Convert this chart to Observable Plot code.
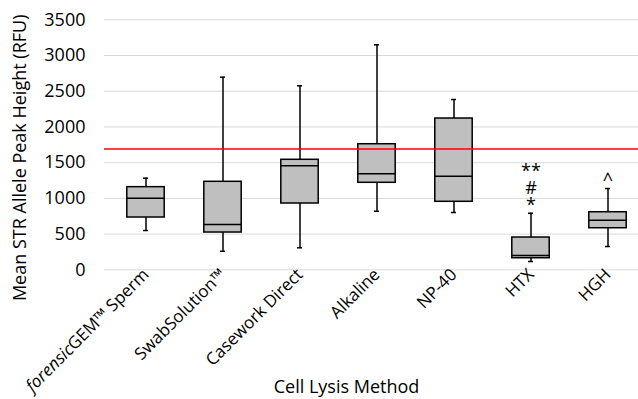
<!DOCTYPE html>
<html><head><meta charset="utf-8">
<script src="https://cdn.jsdelivr.net/npm/d3@7"></script>
<script src="https://cdn.jsdelivr.net/npm/@observablehq/plot@0.6"></script>
<style>body{margin:0;background:#fff;} #chart{width:638px;height:399px;overflow:hidden;}</style>
</head><body><div id="chart"></div>
<script>
const methods = ["forensicGEM™ Sperm","SwabSolution™","Casework Direct","Alkaline","NP-40","HTX","HGH"];
const whiskerLow  = [550, 260, 308, 820, 802, 116, 326];
const q1          = [732, 522, 928, 1218, 952, 162, 582];
const median      = [1003, 634, 1456, 1344, 1310, 200, 694];
const q3          = [1157, 1232, 1540, 1758, 2118, 452, 806];
const whiskerHigh = [1283, 2697, 2576, 3150, 2384, 792, 1138];
const threshold = 1690;
const yTicks = [0, 500, 1000, 1500, 2000, 2500, 3000, 3500];
const annotMethod = ["HTX", "HGH"];
const annotLabel = ["**\n#\n*", "^"];
const annotY = [1131, 1250];
const yTitle = "Mean STR Allele Peak Height (RFU)";
const xTitle = "Cell Lysis Method";

const rows = methods.map((m, i) => ({m, lo: whiskerLow[i], q1: q1[i], med: median[i], q3: q3[i], hi: whiskerHigh[i]}));
const annots = annotLabel.map((t, i) => ({m: annotMethod[i], t, y: annotY[i]}));

const boxInset = 19.8, capInset = 36;
const plot = Plot.plot({
  width: 638, height: 399,
  marginLeft: 104, marginRight: -10, marginTop: 19.3, marginBottom: 129.7,
  style: {fontFamily: "'Open Sans', sans-serif", color: "#000", background: "#fff"},
  x: {domain: methods, padding: 0, axis: null},
  y: {domain: [0, 3500], axis: null},
  marks: [
    Plot.gridY(yTicks, {stroke: "#d9d9d9", strokeOpacity: 1, strokeWidth: 1}),
    Plot.ruleX(rows, {x: "m", y1: "lo", y2: "hi", stroke: "#000", strokeWidth: 1.5}),
    Plot.tickY(rows, {x: "m", y: "lo", stroke: "#000", strokeWidth: 1.5, insetLeft: capInset, insetRight: capInset}),
    Plot.tickY(rows, {x: "m", y: "hi", stroke: "#000", strokeWidth: 1.5, insetLeft: capInset, insetRight: capInset}),
    Plot.barY(rows, {x: "m", y1: "q1", y2: "q3", fill: "#bfbfbf", stroke: "#000", strokeWidth: 1.5, insetLeft: boxInset, insetRight: boxInset}),
    Plot.tickY(rows, {x: "m", y: "med", stroke: "#000", strokeWidth: 1.5, insetLeft: boxInset, insetRight: boxInset}),
    Plot.ruleY([threshold], {stroke: "#ff0000", strokeWidth: 1.5}),
    Plot.text(annots, {x: "m", y: "y", text: "t", fontSize: 18, fill: "#000", lineHeight: 0.944, lineAnchor: "middle"}),
    Plot.axisY(yTicks, {tickSize: 0, tickPadding: 19, fontSize: 18, label: null, tickFormat: d => String(d)}),
    Plot.axisX({tickRotate: -45, tickSize: 0, tickPadding: 2, fontSize: 17, label: null}),
    Plot.text([yTitle], {text: d => d, frameAnchor: "left", textAnchor: "middle", rotate: -90, dx: -84, dy: 13, fontSize: 18}),
    Plot.text([xTitle], {text: d => d, frameAnchor: "bottom", dx: -30, dy: 123, fontSize: 18})
  ]
});
d3.select(plot).selectAll("text").each(function() {
  if (this.textContent === methods[0]) {
    const t = d3.select(this);
    t.text(null);
    t.append("tspan").attr("font-style", "italic").text("forensic");
    t.append("tspan").text("GEM™ Sperm");
  }
});
document.getElementById("chart").appendChild(plot);
</script>
</body></html>
